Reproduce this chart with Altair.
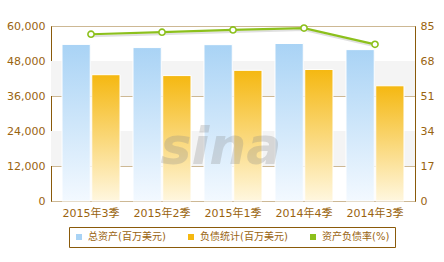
import altair as alt
import pandas as pd

categories = ["2015年3季", "2015年2季", "2015年1季", "2014年4季", "2014年3季"]
total_assets = [53700, 52600, 53600, 54000, 51900]
total_liab = [43300, 43000, 44800, 45100, 39500]
debt_ratio = [81.0, 82.0, 83.1, 84.0, 76.1]
series_names = ["总资产(百万美元)", "负债统计(百万美元)", "资产负债率(%)"]
band_lo = [12000, 36000]
band_hi = [24000, 48000]
left_ticks = [0, 12000, 24000, 36000, 48000, 60000]
right_ticks = [0, 17, 34, 51, 68, 85]

rows = []
for c, a, l in zip(categories, total_assets, total_liab):
    rows.append({"cat": c, "series": series_names[0], "value": a})
    rows.append({"cat": c, "series": series_names[1], "value": l})
bars_df = pd.DataFrame(rows)
line_df = pd.DataFrame({"cat": categories, "ratio": debt_ratio})
band_df = pd.DataFrame({"lo": band_lo, "hi": band_hi})
legend_df = pd.DataFrame({"series": series_names})

BROWN = "#8a5a0a"
LABEL = "#9a6410"
FONT = "DejaVu Sans, Noto Sans CJK SC"

blue_grad = alt.Gradient(gradient="linear", x1=0, y1=0, x2=0, y2=1,
                         stops=[alt.GradientStop(color="#a9d3f5", offset=0),
                                alt.GradientStop(color="#f3f9ff", offset=1)])
orange_grad = alt.Gradient(gradient="linear", x1=0, y1=0, x2=0, y2=1,
                           stops=[alt.GradientStop(color="#f5b811", offset=0),
                                  alt.GradientStop(color="#fff7df", offset=1)])

xscale = alt.Scale(domain=categories, paddingInner=0.183, paddingOuter=0.155)
yscale = alt.Scale(domain=[0, 60000], nice=False)
rscale = alt.Scale(domain=[0, 85], nice=False)
offscale = alt.Scale(domain=series_names[:2], paddingInner=0.05)

x_axis = alt.Axis(title=None, labelAngle=0, domain=False, ticks=False,
                  labelPadding=6, labelColor=LABEL, labelFont=FONT,
                  labelFontSize=11, labelOverlap=False)
left_axis = alt.Axis(title=None, values=left_ticks, tickCount=6,
                     format=",d", grid=True, gridColor="#cdb894", gridWidth=1,
                     domainColor=BROWN, domainWidth=1, ticks=False,
                     labelPadding=6, labelColor=LABEL, labelFont=FONT,
                     labelFontSize=11, labelOverlap=False, labelFlush=False,
                     labelBound=False)
right_axis = alt.Axis(title=None, orient="right", values=right_ticks, tickCount=6,
                      grid=False, domainColor=BROWN, domainWidth=1, ticks=False,
                      labelPadding=5, labelColor=LABEL, labelFont=FONT,
                      labelFontSize=11, labelOverlap=False, labelFlush=False,
                      labelBound=False)

x_enc = alt.X("cat:N", scale=xscale, sort=categories, axis=x_axis)

bands = alt.Chart(band_df).mark_rect(color="#f4f4f4").encode(
    x=alt.value(0), x2=alt.value("width"),
    y=alt.Y("lo:Q", scale=yscale, axis=left_axis), y2="hi:Q")

shadow = alt.Chart(bars_df).mark_bar(color="#000000", opacity=0.15, xOffset=3,
                                     yOffset=2, clip=True).encode(
    x=x_enc, xOffset=alt.XOffset("series:N", scale=offscale),
    y=alt.Y("value:Q", scale=yscale, axis=left_axis))

bars = alt.Chart(bars_df).mark_bar(stroke="white", strokeWidth=1).encode(
    x=x_enc, xOffset=alt.XOffset("series:N", scale=offscale),
    y=alt.Y("value:Q", scale=yscale, axis=left_axis),
    color=alt.condition(alt.datum.series == series_names[0],
                        alt.value(blue_grad), alt.value(orange_grad)))

left = alt.layer(bands, shadow, bars)

line_shadow = alt.Chart(line_df).mark_line(color="#000000", opacity=0.12,
                                           strokeWidth=2, yOffset=2).encode(
    x=x_enc, y=alt.Y("ratio:Q", scale=rscale, axis=right_axis))
line = alt.Chart(line_df).mark_line(color="#8cc01c", strokeWidth=2.2).encode(
    x=x_enc, y=alt.Y("ratio:Q", scale=rscale, axis=right_axis))
pts = alt.Chart(line_df).mark_point(filled=True, fill="white", stroke="#8cc01c",
                                    strokeWidth=1.6, size=38, opacity=1).encode(
    x=x_enc, y=alt.Y("ratio:Q", scale=rscale, axis=right_axis))

right = alt.layer(line_shadow, line, pts)

legend_layer = alt.Chart(legend_df).mark_square(opacity=0, size=1).encode(
    x=alt.value(0), y=alt.value(0),
    color=alt.Color("series:N", sort=series_names,
                    scale=alt.Scale(domain=series_names,
                                    range=["#a9d3f5", "#f5b811", "#8cc01c"]),
                    legend=alt.Legend(title=None, orient="none", legendX=18,
                                      legendY=201, direction="horizontal",
                                      symbolType="square", symbolSize=36,
                                      symbolOpacity=1, symbolStrokeWidth=0,
                                      labelFont=FONT, labelFontSize=10,
                                      labelColor=LABEL, columnPadding=20,
                                      padding=5, strokeColor=BROWN,
                                      fillColor="white", labelOffset=4)))

watermark = alt.Chart(pd.DataFrame({"t": ["sina"]})).mark_text(
    fontSize=52, fontWeight="bold", fontStyle="italic", font="DejaVu Sans",
    color="#8a8a8a", opacity=0.28).encode(
    text="t:N", x=alt.value(170), y=alt.value(122))

chart = alt.layer(left, right, watermark, legend_layer).resolve_scale(
    y="independent", color="independent").properties(
    width=364, height=175,
    padding={"left": 51, "top": 26, "right": 29, "bottom": 61},
    autosize=alt.AutoSizeParams(type="none"),
    background="white",
).configure_view(stroke=BROWN, strokeWidth=1)

chart.save("out.html", embed_options={"renderer": "svg", "actions": False})
